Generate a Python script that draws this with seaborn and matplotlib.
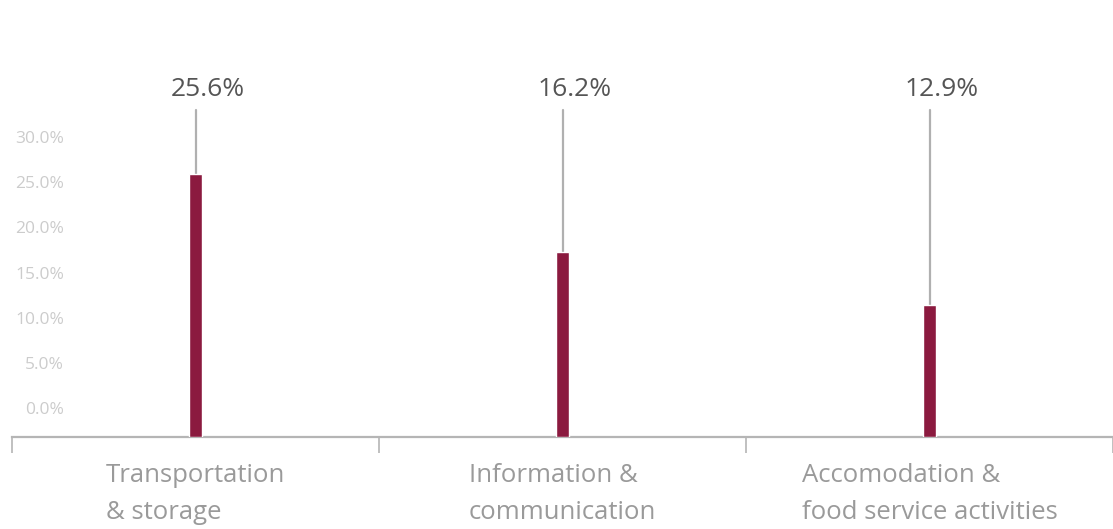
import matplotlib
matplotlib.use("Agg")
import matplotlib.pyplot as plt
import seaborn as sns
import pandas as pd

# ---- data ----
categories = ["Transportation\n& storage", "Information &\ncommunication", "Accomodation &\nfood service activities"]
bar_values = [25.6, 18.0, 12.9]          # bar heights as drawn
value_labels = ["25.6%", "16.2%", "12.9%"]  # annotation texts
ytick_values = [0, 5, 10, 15, 20, 25, 30]
ytick_labels = ["0.0%", "5.0%", "10.0%", "15.0%", "20.0%", "25.0%", "30.0%"]

BAR = "#8B1A3F"
GRID = "#b5b5b5"

sns.set_theme(style="white")
plt.rcParams["font.family"] = ["Open Sans", "DejaVu Sans"]

W, H = 1113, 529
fig = plt.figure(figsize=(W / 100, H / 100), dpi=100)
ax_left, ax_right, ax_bottom, ax_top = 12, 1113, 437, 60
ax = fig.add_axes([ax_left / W, (H - ax_bottom) / H, (ax_right - ax_left) / W, (ax_bottom - ax_top) / H])

df = pd.DataFrame({"category": categories, "value": bar_values})
sns.barplot(data=df, x="category", y="value", color=BAR, width=0.036,
            saturation=1, ax=ax, zorder=3)

px_per_unit = 10.27
top_val = (ax_bottom - ax_top) / px_per_unit
ax.set_ylim(0, top_val)
ax.set_xlim(-0.5, 2.5)

# spines
for s in ["top", "right", "left"]:
    ax.spines[s].set_visible(False)
ax.spines["bottom"].set_color(GRID)
ax.spines["bottom"].set_linewidth(1.6)

# x ticks: labels at categories, tick marks at boundaries
ax.set_xticks(range(len(categories)))
ax.set_xticklabels(categories, fontsize=18.5, color="#9a9a9a", multialignment="left",
                   linespacing=1.63)
ax.tick_params(axis="x", which="major", length=0, pad=18.6, bottom=True)
ax.set_xticks([-0.5, 0.5, 1.5, 2.5], minor=True)
ax.tick_params(axis="x", which="minor", bottom=True, length=11.5, width=1.2,
               color=GRID, direction="out")
ax.set_yticks([])
ax.set_xlabel("")
ax.set_ylabel("")

# leader lines and labels
line_top_frac = (ax_bottom - 110) / (ax_bottom - ax_top)
label_frac = (ax_bottom - 89) / (ax_bottom - ax_top)
for i, (v, lab) in enumerate(zip(bar_values, value_labels)):
    ax.axvline(i, ymin=v / top_val, ymax=line_top_frac, color="#b0b0b0", lw=1.6, zorder=2)
    ax.annotate(lab, xy=(i, label_frac), xycoords=ax.get_xaxis_transform(),
                xytext=(8.6, 0), textcoords="offset points", ha="center", va="center",
                fontsize=19, color="#555555")

# y tick labels on a twin scale
ax2 = ax.twinx()
tick_px = 9.033
zero_px = ax_bottom - 408
lo = -zero_px / tick_px
ax2.set_ylim(lo, lo + (ax_bottom - ax_top) / tick_px)
ax2.yaxis.set_ticks_position("left")
ax2.yaxis.set_label_position("left")
ax2.set_yticks(ytick_values)
ax2.set_yticklabels(ytick_labels, fontsize=12.5, color="#cccccc")
ax2.tick_params(axis="y", length=0, pad=-37.4)
for s in ax2.spines.values():
    s.set_visible(False)
ax2.grid(False)
ax.grid(False)

fig.savefig("out.png", dpi=100)
